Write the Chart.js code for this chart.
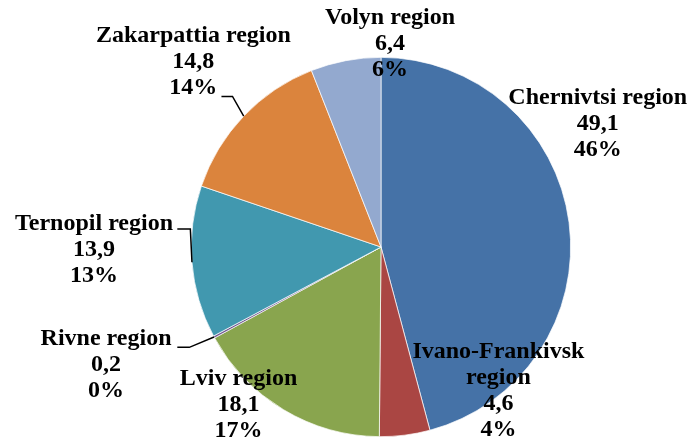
<!DOCTYPE html>
<html><head><meta charset="utf-8">
<script src="https://cdn.jsdelivr.net/npm/chart.js@4.4.1/dist/chart.umd.min.js"></script>
<style>html,body{margin:0;padding:0;background:#fff;}canvas{display:block;}</style>
</head><body>
<canvas id="c" width="687" height="444"></canvas>
<script>
const categories = ["Chernivtsi region","Ivano-Frankivsk region","Lviv region","Rivne region","Ternopil region","Zakarpattia region","Volyn region"];
const values = [49.1, 4.6, 18.1, 0.2, 13.9, 14.8, 6.4];
const colors = ["#4572A7","#AA4643","#89A54E","#71588F","#4198AF","#DB843D","#93A9CF"];
// label text lines per slice (category name may wrap)
const labelLines = [["Chernivtsi region"],["Ivano-Frankivsk","region"],["Lviv region"],["Rivne region"],["Ternopil region"],["Zakarpattia region"],["Volyn region"]];
// label anchor (center x, first baseline) relative to pie center, in units of radius
const labelPos = [[216,-143],[117,111],[-142,138],[-274,98],[-286,-17],[-187,-204],[9,-222]].map(p=>[p[0]/189,p[1]/189]);
// leader lines: [startDx,startDy,elbowDx,elbowDy] relative to center in radius units, or null
const leaders = [null,null,null,[-203,100,-191,100],[-203,-18,-190,-18],[-159,-150,-148,-150],null].map(l=>l?l.map(v=>v/189):null);

const total = values.reduce((a,b)=>a+b,0);
const fmt = v => v.toFixed(1).replace('.',',');

const labelPlugin = {
  id:'labels',
  afterDatasetsDraw(chart){
    const ctx = chart.ctx;
    const meta = chart.getDatasetMeta(0);
    ctx.save();
    ctx.font = 'bold 24px "Liberation Serif","Times New Roman",serif';
    ctx.fillStyle = '#000';
    ctx.textAlign = 'center';
    ctx.textBaseline = 'alphabetic';
    meta.data.forEach((arc,i)=>{
      const cx = arc.x, cy = arc.y, r = arc.outerRadius;
      const lx = cx + labelPos[i][0]*r, ly = cy + labelPos[i][1]*r;
      const lines = labelLines[i].concat([fmt(values[i]), Math.round(values[i]/total*100)+'%']);
      lines.forEach((t,k)=>ctx.fillText(t, lx, ly + k*26));
      if (leaders[i]) {
        const mid = (arc.startAngle + arc.endAngle)/2;
        const ex = cx + Math.cos(mid)*r, ey = cy + Math.sin(mid)*r;
        ctx.beginPath();
        ctx.strokeStyle = '#000';
        ctx.lineWidth = 1.5;
        ctx.moveTo(cx + leaders[i][0]*r, cy + leaders[i][1]*r);
        ctx.lineTo(cx + leaders[i][2]*r, cy + leaders[i][3]*r);
        ctx.lineTo(ex, ey);
        ctx.stroke();
      }
    });
    ctx.restore();
  }
};

new Chart(document.getElementById('c'), {
  type:'pie',
  data:{labels:categories, datasets:[{data:values, backgroundColor:colors, borderColor:'#ffffff', borderWidth:0.7}]},
  options:{
    responsive:false, animation:false,
    layout:{padding:{left:191,right:116,top:57,bottom:7}},
    plugins:{legend:{display:false}, tooltip:{enabled:false}}
  },
  plugins:[labelPlugin]
});
</script>
</body></html>
